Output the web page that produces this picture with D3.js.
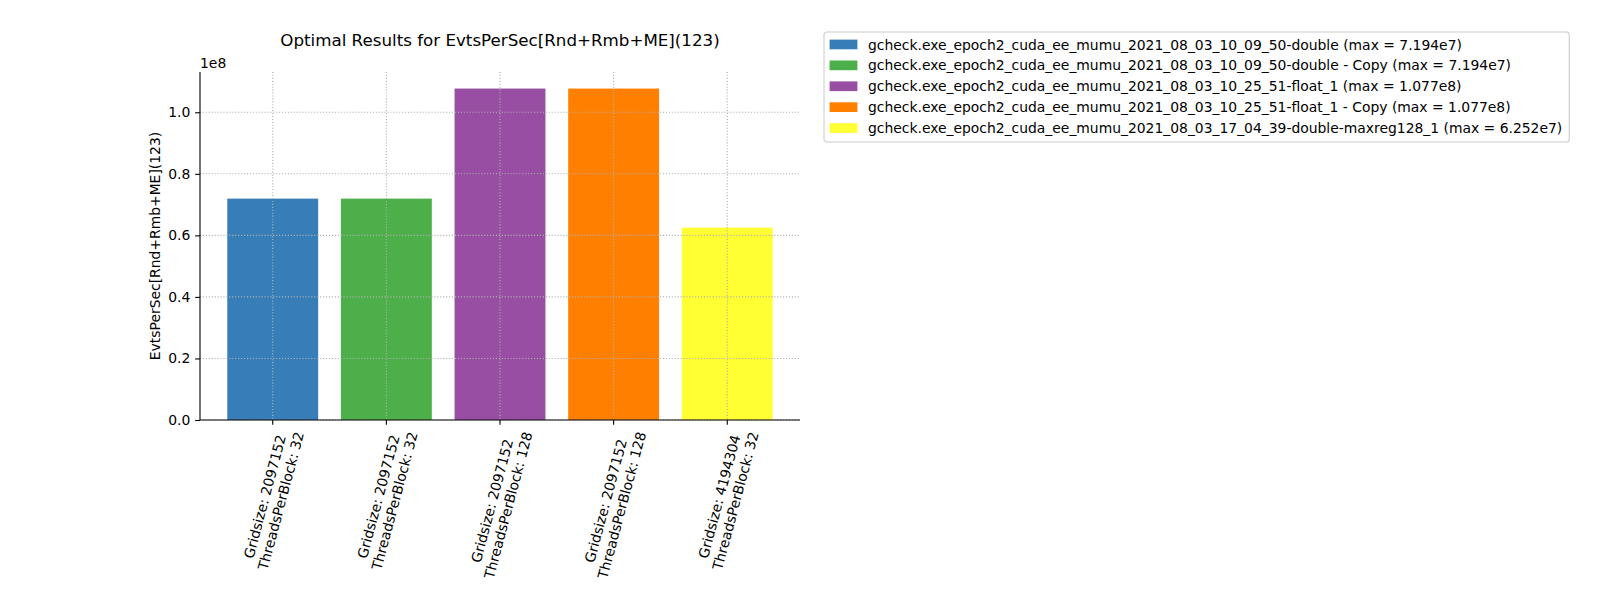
<!DOCTYPE html>
<html>
<head>
<meta charset="utf-8">
<script src="https://cdn.jsdelivr.net/npm/d3@7"></script>
<style>
  body { margin: 0; background: #fff; }
  text { font-family: "DejaVu Sans", sans-serif; fill: #000; }
</style>
</head>
<body>
<div class="visuals"></div>
<script>
// chart data
const gridSizes = ["2097152", "2097152", "2097152", "2097152", "4194304"];
const threadsPerBlock = ["32", "32", "128", "128", "32"];
const seriesNames = [
  "gcheck.exe_epoch2_cuda_ee_mumu_2021_08_03_10_09_50-double",
  "gcheck.exe_epoch2_cuda_ee_mumu_2021_08_03_10_09_50-double - Copy",
  "gcheck.exe_epoch2_cuda_ee_mumu_2021_08_03_10_25_51-float_1",
  "gcheck.exe_epoch2_cuda_ee_mumu_2021_08_03_10_25_51-float_1 - Copy",
  "gcheck.exe_epoch2_cuda_ee_mumu_2021_08_03_17_04_39-double-maxreg128_1"
];
const maxLabels = ["7.194e7", "7.194e7", "1.077e8", "1.077e8", "6.252e7"];
const evtsPerSec = [7.194e7, 7.194e7, 1.077e8, 1.077e8, 6.252e7];
const barColors = ["#377eb8", "#4daf4a", "#984ea3", "#ff7f00", "#ffff33"];
const yTicks = [0, 0.2e8, 0.4e8, 0.6e8, 0.8e8, 1.0e8];

const width = 1600, height = 600;
const axLeft = 200, axRight = 800, axTop = 72, axBottom = 420;
const fs = 13.9;      // 10pt
const tick = 4.86;    // 3.5pt

const svg = d3.select(".visuals")
  .append("svg")
  .attr("width", width)
  .attr("height", height);

const idx = d3.range(evtsPerSec.length);
const x = d3.scaleBand().domain(idx).range([axLeft, axRight])
  .paddingInner(0.2).paddingOuter(0.24);
const y = d3.scaleLinear().domain([0, d3.max(evtsPerSec) * 1.05]).range([axBottom, axTop]);

//bars
svg.selectAll("rect.bar")
  .data(idx)
  .enter()
  .append("rect")
  .attr("class", "bar")
  .attr("x", i => x(i))
  .attr("width", x.bandwidth())
  .attr("y", i => y(evtsPerSec[i]))
  .attr("height", i => y(0) - y(evtsPerSec[i]))
  .attr("fill", i => barColors[i]);

//grid (drawn over bars, as in the picture)
const grid = svg.append("g")
  .attr("stroke", "#b0b0b0")
  .attr("stroke-width", 1.1)
  .attr("stroke-dasharray", "1.1,1.83");
grid.selectAll("line.gx")
  .data(idx)
  .enter()
  .append("line")
  .attr("x1", i => x(i) + x.bandwidth() / 2)
  .attr("x2", i => x(i) + x.bandwidth() / 2)
  .attr("y1", axTop).attr("y2", axBottom);
grid.selectAll("line.gy")
  .data(yTicks)
  .enter()
  .append("line")
  .attr("x1", axLeft).attr("x2", axRight)
  .attr("y1", d => y(d)).attr("y2", d => y(d));

//y axis
const yAxis = svg.append("g")
  .attr("transform", `translate(${axLeft},0)`)
  .call(d3.axisLeft(y).tickValues(yTicks)
    .tickFormat(d => (d / 1e8).toFixed(1))
    .tickSize(tick).tickPadding(tick));
yAxis.selectAll("text").style("font-size", fs + "px").style("font-family", "DejaVu Sans");
yAxis.selectAll("line").attr("stroke-width", 1.1);
yAxis.select(".domain").remove();

//x axis
const xAxis = svg.append("g")
  .attr("transform", `translate(0,${axBottom})`)
  .call(d3.axisBottom(x).tickFormat("").tickSize(tick));
xAxis.selectAll("line").attr("stroke-width", 1.1);
xAxis.select(".domain").remove();

const rot = 75 * Math.PI / 180;
xAxis.selectAll(".tick").each(function(i) {
  const t = d3.select(this).append("text")
    .attr("text-anchor", "middle")
    .style("font-size", fs + "px")
    .attr("fill", "#000");
  t.append("tspan").attr("x", 0).attr("y", 0).text("Gridsize: " + gridSizes[i]);
  t.append("tspan").attr("x", 0).attr("y", fs * 1.2).text("ThreadsPerBlock: " + threadsPerBlock[i]);
  const b = t.node().getBBox();
  const cx = b.x + b.width / 2, cy = b.y + b.height / 2;
  const H = b.width * Math.sin(rot) + b.height * Math.cos(rot);
  t.attr("transform", `translate(0,${tick * 2 + H / 2 - 4}) rotate(-75) translate(${-cx},${-cy})`);
});

//spines
svg.append("line").attr("x1", axLeft).attr("x2", axLeft).attr("y1", axTop).attr("y2", axBottom)
  .attr("stroke", "#000").attr("stroke-width", 1.1);
svg.append("line").attr("x1", axLeft).attr("x2", axRight).attr("y1", axBottom).attr("y2", axBottom)
  .attr("stroke", "#000").attr("stroke-width", 1.1);

//offset text, title, y label
svg.append("text").attr("x", axLeft).attr("y", 68)
  .style("font-size", fs + "px").text("1e8");
svg.append("text").attr("x", (axLeft + axRight) / 2).attr("y", 46)
  .attr("text-anchor", "middle").style("font-size", "16.7px")
  .text("Optimal Results for EvtsPerSec[Rnd+Rmb+ME](123)");
svg.append("text")
  .attr("transform", `translate(160,${(axTop + axBottom) / 2}) rotate(-90)`)
  .attr("text-anchor", "middle").style("font-size", fs + "px")
  .text("EvtsPerSec[Rnd+Rmb+ME](123)");

//legend
const lg = svg.append("g").attr("transform", "translate(824,32)");
const rowH = 20.9;
const items = lg.selectAll("g.item")
  .data(idx)
  .enter()
  .append("g")
  .attr("transform", i => `translate(0,${12.5 + i * rowH})`);
items.append("rect")
  .attr("x", 5.6).attr("y", -4.9)
  .attr("width", 27.8).attr("height", 9.7)
  .attr("fill", i => barColors[i]);
items.append("text")
  .attr("x", 44).attr("y", 5)
  .style("font-size", fs + "px")
  .text(i => `${seriesNames[i]} (max = ${maxLabels[i]})`);
let lw = 0;
items.selectAll("text").each(function() { lw = Math.max(lw, this.getComputedTextLength()); });
lg.insert("rect", ":first-child")
  .attr("x", 0).attr("y", 0)
  .attr("width", 44 + lw + 7).attr("height", 110)
  .attr("rx", 2.8)
  .attr("fill", "#fff").attr("fill-opacity", 0.8)
  .attr("stroke", "#cccccc").attr("stroke-width", 1.1);
</script>
</body>
</html>
